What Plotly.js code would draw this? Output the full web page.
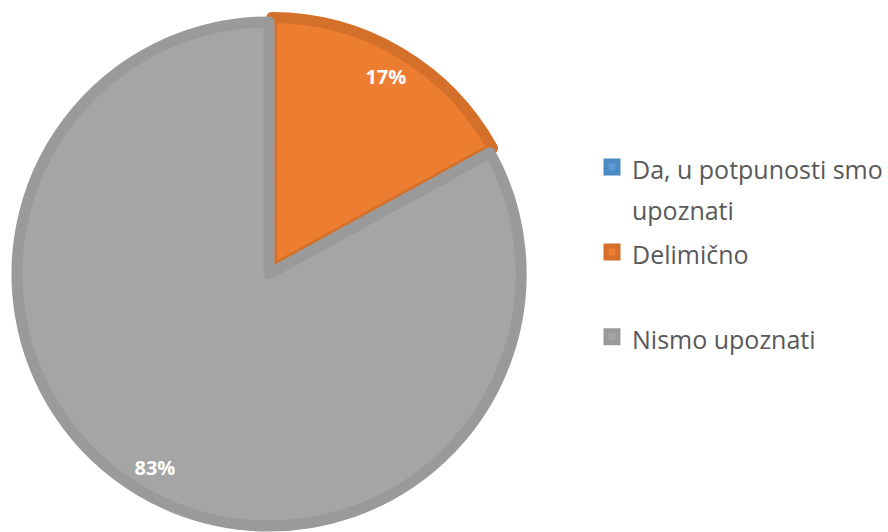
<!DOCTYPE html>
<html>
<head>
<meta charset="utf-8">
<script src="https://cdn.plot.ly/plotly-3.0.1.min.js"></script>
<style>html,body{margin:0;padding:0;background:#fff;}#chart{width:888px;height:532px;}</style>
</head>
<body>
<div id="chart"></div>
<script>
// Data
var categories = ['Da, u potpunosti smo<br>upoznati', 'Delimično<br> ', 'Nismo upoznati'];
var values = [0, 17, 83];
var sliceColors = ['#5B9BD5', '#ED7D31', '#A5A5A5'];
var borderColors = ['#4E8AC2', '#D5702A', '#9A9A9A'];
var labelTemplates = ['', '%{percent}', '%{percent}'];
var pulls = [0, 0.02, 0];

var legendText = categories.map(function (c) {
  return c.split('<br>').map(function (p) {
    return '<span style="font-size:25px">' + p + '</span>';
  }).join('<br>');
});

var pieDomain = { x: [12 / 888, 528 / 888], y: [0, 516 / 532] };

var trace = {
  type: 'pie',
  labels: legendText,
  values: values,
  sort: false,
  direction: 'clockwise',
  rotation: 0,
  pull: pulls,
  marker: { colors: sliceColors, line: { color: borderColors, width: 11 } },
  textinfo: 'none',
  hoverinfo: 'label+percent',
  domain: pieDomain,
  showlegend: true
};

// transparent ring trace, used only to place the percentage labels near the rim
var labelTrace = {
  type: 'pie',
  labels: categories,
  values: values,
  sort: false,
  direction: 'clockwise',
  rotation: 0,
  pull: pulls,
  hole: 0.78,
  marker: { colors: ['rgba(0,0,0,0)', 'rgba(0,0,0,0)', 'rgba(0,0,0,0)'], line: { width: 0 } },
  texttemplate: labelTemplates,
  textposition: 'inside',
  insidetextorientation: 'horizontal',
  textfont: { family: 'Open Sans', size: 20, color: '#FFFFFF', weight: 'bold' },
  hoverinfo: 'skip',
  domain: pieDomain,
  showlegend: false
};

var layout = {
  width: 888,
  height: 532,
  margin: { l: 0, r: 0, t: 0, b: 0 },
  paper_bgcolor: '#FFFFFF',
  showlegend: true,
  legend: {
    x: 594 / 888,
    xanchor: 'left',
    y: 1 - 140 / 532,
    yanchor: 'top',
    valign: 'top',
    font: { family: 'Open Sans', size: 31.5, color: '#595959' },
    bgcolor: 'rgba(0,0,0,0)'
  }
};

Plotly.newPlot('chart', [trace, labelTrace], layout, { displayModeBar: false, staticPlot: true });
</script>
</body>
</html>
